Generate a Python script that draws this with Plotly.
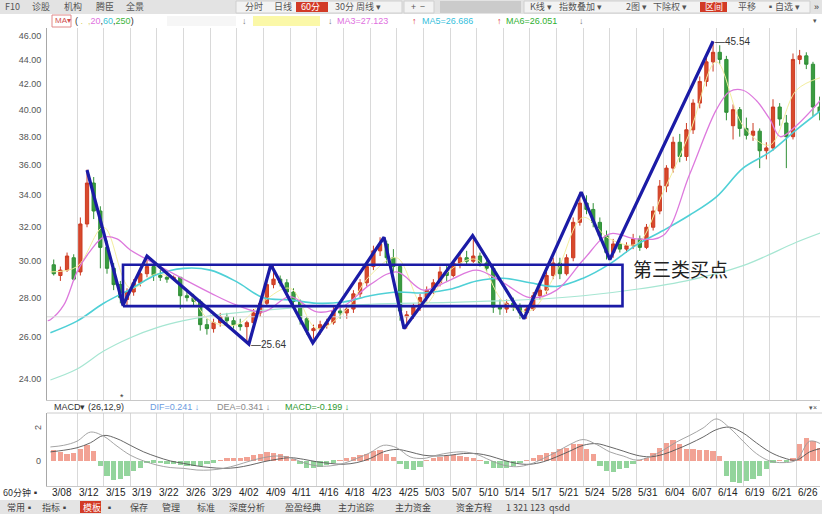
import math
import plotly.graph_objects as go

W, H = 822, 514

# ---------------- data ----------------
date_labels = ["3/08", "3/12", "3/15", "3/19", "3/22", "3/26", "3/29", "4/02", "4/09", "4/11",
               "4/16", "4/18", "4/23", "4/25", "5/03", "5/07", "5/10", "5/14", "5/17", "5/21",
               "5/24", "5/28", "5/31", "6/04", "6/07", "6/14", "6/19", "6/21", "6/26"]

opens = [29.8, 29.2, 29.5, 30.2, 29.4, 32.2, 34.8, 33.0, 30.8, 29.6, 28.7, 27.9, 28.3, 28.8, 29.3, 29.7,
         29.2, 29.1, 29.0, 29.1, 28.1, 28.0, 27.8, 26.6, 26.4, 26.7, 27.0, 26.8, 26.6, 26.5, 26.7, 27.2,
         27.7, 28.7, 29.0, 28.8, 28.3, 27.8, 26.9, 26.3, 26.4, 26.6, 26.7, 27.3, 27.2, 27.4, 28.2, 28.8,
         29.7, 30.6, 31.0, 30.2, 29.7, 27.0, 27.1, 27.5, 28.0, 28.4, 28.8, 29.4, 29.2, 29.9, 30.2, 30.0,
         30.3, 29.9, 29.6, 27.5, 27.4, 27.7, 27.5, 27.2, 27.4, 28.1, 28.4, 29.2, 29.9, 29.3, 30.2, 32.3,
         33.5, 33.1, 32.3, 31.5, 30.5, 31.0, 30.7, 30.9, 31.3, 30.8, 32.0, 33.0, 34.6, 35.8, 37.6, 36.6,
         38.5, 40.5, 42.2, 43.8, 44.6, 44.0, 38.8, 40.0, 38.6, 38.1, 38.4, 37.0, 37.2, 40.2, 39.0, 38.0,
         44.0, 44.3, 43.6, 40.2]
highs = [30.1, 29.7, 30.5, 30.4, 32.6, 35.7, 35.2, 33.3, 31.2, 29.9, 28.9, 28.5, 29.0, 29.5, 30.3, 29.9,
         29.5, 29.3, 29.2, 29.1, 28.3, 28.2, 27.9, 26.9, 26.9, 27.2, 27.2, 27.0, 26.9, 26.8, 27.4, 27.8,
         28.9, 29.8, 29.2, 29.0, 28.5, 27.9, 27.0, 26.6, 26.8, 26.9, 27.5, 27.6, 27.5, 28.4, 29.0, 30.0,
         30.9, 31.4, 31.2, 30.7, 29.8, 27.3, 27.7, 28.2, 28.6, 29.0, 29.7, 29.8, 30.0, 30.4, 30.6, 31.5,
         30.5, 30.1, 29.8, 27.9, 27.9, 28.0, 27.7, 27.6, 28.3, 28.6, 29.4, 30.2, 30.2, 30.4, 32.6, 34.2,
         34.0, 33.5, 32.6, 31.8, 31.3, 31.2, 31.1, 31.6, 31.5, 32.2, 33.3, 35.0, 36.0, 38.0, 38.2, 39.0,
         40.8, 42.6, 44.2, 45.54, 45.2, 44.3, 40.4, 40.2, 39.4, 39.0, 38.6, 37.6, 40.8, 40.5, 39.6, 44.5,
         44.8, 44.6, 43.8, 41.0]
lows = [29.2, 28.9, 29.4, 28.9, 29.2, 32.0, 32.5, 29.6, 29.3, 28.4, 27.7, 27.6, 28.1, 28.6, 29.1, 28.9,
        28.9, 28.8, 28.9, 27.4, 27.8, 27.6, 26.3, 26.1, 26.2, 26.5, 26.6, 26.4, 26.3, 25.64, 26.6, 27.0,
        27.6, 28.5, 28.6, 28.1, 27.6, 26.6, 26.1, 25.9, 26.1, 26.4, 26.6, 26.9, 26.9, 27.2, 28.0, 28.6,
        29.5, 30.3, 29.8, 29.4, 26.8, 26.4, 26.9, 27.3, 27.8, 28.2, 28.6, 28.9, 29.1, 29.6, 29.8, 29.9,
        29.7, 29.4, 27.2, 27.1, 27.2, 27.3, 26.9, 26.9, 27.3, 27.9, 28.2, 29.0, 29.0, 29.2, 30.0, 32.1,
        32.8, 32.0, 31.2, 30.1, 30.2, 30.5, 30.5, 30.7, 30.6, 30.7, 31.8, 32.8, 34.2, 35.5, 36.2, 36.3,
        38.2, 40.1, 41.8, 43.0, 43.6, 39.2, 37.8, 38.0, 37.8, 37.7, 35.8, 36.4, 37.0, 38.8, 35.8, 37.8,
        43.6, 43.2, 39.5, 39.2]
closes = [29.3, 29.5, 30.3, 29.0, 32.2, 34.8, 33.0, 30.8, 29.6, 28.7, 28.0, 28.3, 28.8, 29.3, 29.7, 29.2,
          29.1, 29.0, 29.1, 28.1, 28.0, 27.8, 26.6, 26.4, 26.7, 27.0, 26.8, 26.6, 26.5, 26.7, 27.2, 27.7,
          28.7, 29.0, 28.8, 28.3, 27.8, 26.9, 26.3, 26.4, 26.6, 26.7, 27.3, 27.2, 27.4, 28.2, 28.8, 29.7,
          30.6, 31.0, 30.2, 29.7, 27.3, 27.1, 27.5, 28.0, 28.4, 28.8, 29.4, 29.2, 29.9, 30.2, 30.0, 30.3,
          29.9, 29.6, 27.5, 27.4, 27.7, 27.5, 27.2, 27.4, 28.1, 28.4, 29.2, 29.9, 29.3, 30.2, 32.3, 33.5,
          33.1, 32.3, 31.5, 30.5, 31.0, 30.7, 30.9, 31.3, 30.8, 32.0, 33.0, 34.6, 35.8, 37.6, 36.6, 38.5,
          40.5, 42.2, 43.8, 44.6, 44.0, 39.8, 40.0, 38.6, 38.1, 38.4, 37.0, 37.2, 40.2, 39.3, 38.0, 44.0,
          44.3, 43.6, 40.2, 39.8]

# moving averages, sampled at positions measured in date-grid units
ma_short_pos = list(range(29)) + [28.9]
ma_short_val = [29.4, 29.7, 32.0, 28.5, 29.3, 28.6, 26.8, 26.6, 27.8, 28.5, 26.4, 27.2, 29.2, 30.2, 27.6,
                29.5, 30.1, 27.8, 27.3, 29.4, 32.6, 31.3, 31.0, 34.2, 38.3, 43.8, 38.8, 37.4, 41.5, 42.5]
ma20_pos = [-0.1, 0, 0.5, 1, 1.5, 2, 2.5, 3, 4, 5, 6, 7, 8, 9, 10, 11, 12, 13, 14, 15, 16, 17, 18, 19,
            20, 21, 22, 23, 24, 25, 25.5, 26, 26.5, 27, 27.4, 28, 28.9]
ma20_val = [26.8, 26.85, 27.6, 29.4, 30.6, 31.4, 31.3, 30.65, 29.8, 29.0, 28.25, 27.6, 27.25, 28.05,
            27.25, 27.55, 28.7, 29.4, 28.4, 28.95, 29.5, 28.8, 28.0, 28.4, 30.07, 31.6, 31.3, 31.5, 35.4,
            40.0, 41.4, 41.5, 40.7, 39.3, 38.0, 38.8, 40.7]
ma60_pos = list(range(29)) + [28.9]
ma60_val = [26.2, 26.78, 27.7, 28.45, 29.25, 29.6, 29.5, 28.85, 27.99, 27.88, 27.7, 27.77, 28.1, 28.3,
            28.25, 28.45, 28.9, 29.05, 28.8, 28.6, 29.05, 29.85, 30.95, 31.8, 32.75, 33.9, 35.8, 36.9,
            38.5, 39.9]
ma250_pos = [0, 1, 2, 3, 4, 5, 6, 9, 12, 15, 18, 20, 22, 24, 26, 28, 28.9]
ma250_val = [23.95, 24.45, 25.3, 25.95, 26.45, 26.8, 27.05, 27.45, 27.65, 27.75, 27.9, 28.1, 28.45,
             28.95, 29.75, 31.1, 31.65]

# zigzag pivots (bar index, price) and the central box
zz_bar = [5, 10.4, 14, 29.3, 32.6, 38.9, 49.6, 52.6, 62.9, 70.6, 79.2, 83.5, 99]
zz_price = [35.67, 27.6, 30.3, 25.64, 29.8, 25.7, 31.4, 26.4, 31.5, 26.9, 34.2, 30.1, 45.54]
box_bar = [10.4, 85.4]
box_price = [27.55, 29.8]

# MACD
macd_hist = [0.65, 0.55, 0.45, 0.5, 0.7, 0.95, 0.6, -0.3, -0.9, -1.15, -1.1, -0.9, -0.6, -0.4, -0.15,
             -0.1, -0.15, -0.2, -0.2, -0.25, -0.3, -0.3, -0.3, -0.2, -0.1, 0.05, 0.15, 0.15, 0.2, 0.25,
             0.35, 0.45, 0.55, 0.5, 0.4, 0.3, 0.1, -0.2, -0.4, -0.45, -0.35, -0.25, -0.1, 0.05, 0.15,
             0.25, 0.35, 0.45, 0.6, 0.65, 0.45, 0.25, -0.2, -0.5, -0.55, -0.35, 0.05, 0.15, 0.25, 0.3,
             0.35, 0.3, 0.25, 0.2, 0.05, -0.2, -0.4, -0.45, -0.4, -0.3, -0.15, 0.05, 0.2, 0.35, 0.5,
             0.55, 0.75, 0.8, 1.0, 1.05, 0.75, 0.45, -0.3, -0.6, -0.65, -0.5, -0.4, -0.2, 0.05, 0.2,
             0.5, 0.8, 1.1, 1.3, 1.0, 0.75, 0.7, 0.65, 0.65, 0.6, 0.3, -0.9, -1.3, -1.35, -1.2, -1.1,
             -0.9, -0.5, -0.1, 0.05, -0.05, 0.2, 1.0, 1.4, 1.2, 0.8]
macd_line_pos = [j / 2 for j in range(58)] + [28.9]
dif_val = [0.85, 0.95, 1.2, 1.75, 1.5, 0.9, 0.35, 0.0, -0.25, -0.4, -0.45, -0.55, -0.55, -0.45, -0.25,
           0.0, 0.2, 0.3, 0.2, -0.1, -0.3, -0.3, -0.15, 0.15, 0.5, 0.95, 0.8, 0.25, 0.15, 0.35, 0.5,
           0.55, 0.4, 0.05, -0.25, -0.35, -0.2, 0.15, 0.55, 1.0, 1.3, 1.0, 0.55, 0.3, 0.05, 0.25, 0.65,
           1.15, 1.55, 2.0, 2.55, 2.0, 1.2, 0.45, 0.0, -0.1, 0.05, 1.2, 1.05]
dea_val = [0.55, 0.65, 0.8, 1.1, 1.55, 1.35, 0.95, 0.55, 0.25, 0.0, -0.15, -0.3, -0.4, -0.45, -0.4,
           -0.25, -0.05, 0.1, 0.2, 0.1, -0.05, -0.15, -0.2, -0.1, 0.15, 0.55, 0.7, 0.55, 0.35, 0.3,
           0.35, 0.45, 0.45, 0.3, 0.05, -0.15, -0.2, -0.05, 0.25, 0.6, 0.95, 1.05, 0.85, 0.6, 0.35,
           0.25, 0.4, 0.7, 1.05, 1.45, 1.9, 2.05, 1.7, 1.1, 0.55, 0.2, 0.05, 0.55, 0.75]

price_ticks = [24, 26, 28, 30, 32, 34, 36, 38, 40, 42, 44, 46]
ref_price_line = 27.0

# ---------------- layout helpers ----------------
BARS_PER_GRID = 4
def grid_to_bar(g):
    return BARS_PER_GRID * g - 0.5

def PX(x):
    return x / W

def PY(y):
    return 1 - y / H

L_PX, R_PX = 47, 820
MAIN_T, MAIN_B = 28, 400
MACD_T, MACD_B = 413, 486
BAR_W_PX = 6.66
X0_PX = 50.4
x_range = [(L_PX - X0_PX) / BAR_W_PX - 0.5, (R_PX - X0_PX) / BAR_W_PX - 0.5]
p_top = 46 * math.exp((36 - MAIN_T) / 527)
p_bot = 46 * math.exp((36 - MAIN_B) / 527)

FONT = "Liberation Sans, Arial, Noto Sans CJK SC, sans-serif"
CJK = "Noto Sans CJK SC, sans-serif"

fig = go.Figure()

n = len(closes)
bars = list(range(n))

fig.add_trace(go.Candlestick(
    x=bars, open=opens, high=highs, low=lows, close=closes,
    increasing=dict(line=dict(color="#cc3a22", width=1), fillcolor="#d84a2c"),
    decreasing=dict(line=dict(color="#2f8f36", width=1), fillcolor="#3a9c40"),
    whiskerwidth=0, xaxis="x", yaxis="y", showlegend=False, hoverinfo="skip"))

def ma_trace(pos, val, color, width):
    return go.Scatter(x=[grid_to_bar(g) for g in pos], y=val, mode="lines",
                      line=dict(color=color, width=width, shape="spline", smoothing=1.0),
                      xaxis="x", yaxis="y", showlegend=False, hoverinfo="skip")

fig.add_trace(ma_trace(ma250_pos, ma250_val, "#a6e6d2", 1.2))
fig.add_trace(ma_trace(ma_short_pos, ma_short_val, "#f3ee9e", 1.0))
fig.add_trace(ma_trace(ma60_pos, ma60_val, "#4fd0d6", 1.6))
fig.add_trace(ma_trace(ma20_pos, ma20_val, "#dd79dd", 1.3))

# reference horizontal line in main panel
fig.add_trace(go.Scatter(x=[-2, 120], y=[ref_price_line, ref_price_line], mode="lines",
                         line=dict(color="#d8d8d8", width=1), xaxis="x", yaxis="y",
                         showlegend=False, hoverinfo="skip"))

# box
bx = [box_bar[0], box_bar[1], box_bar[1], box_bar[0], box_bar[0]]
by = [box_price[0], box_price[0], box_price[1], box_price[1], box_price[0]]
fig.add_trace(go.Scatter(x=bx, y=by, mode="lines", line=dict(color="#1b1ba6", width=2.6),
                         xaxis="x", yaxis="y", showlegend=False, hoverinfo="skip"))
# zigzag
fig.add_trace(go.Scatter(x=zz_bar, y=zz_price, mode="lines", line=dict(color="#1b1ba6", width=3.2),
                         xaxis="x", yaxis="y", showlegend=False, hoverinfo="skip"))

# MACD histogram
fig.add_trace(go.Bar(x=bars, y=macd_hist, width=0.8,
                     marker=dict(color=["#f2a294" if v >= 0 else "#93d49c" for v in macd_hist],
                                 line=dict(width=0)),
                     xaxis="x2", yaxis="y2", showlegend=False, hoverinfo="skip"))
fig.add_trace(go.Scatter(x=[grid_to_bar(g) for g in macd_line_pos], y=dea_val, mode="lines",
                         line=dict(color="#555555", width=0.9, shape="spline"),
                         xaxis="x2", yaxis="y2", showlegend=False, hoverinfo="skip"))
fig.add_trace(go.Scatter(x=[grid_to_bar(g) for g in macd_line_pos], y=dif_val, mode="lines",
                         line=dict(color="#9a9a9a", width=0.9, shape="spline"),
                         xaxis="x2", yaxis="y2", showlegend=False, hoverinfo="skip"))

grid_vals = [grid_to_bar(k) for k in range(1, len(date_labels))]

fig.update_layout(
    width=W, height=H, margin=dict(l=0, r=0, t=0, b=0),
    paper_bgcolor="white", plot_bgcolor="white",
    font=dict(family=FONT, size=9, color="#333"),
    bargap=0,
    xaxis=dict(domain=[PX(L_PX), PX(R_PX)], range=x_range, anchor="y",
               tickvals=grid_vals, showticklabels=False, ticks="",
               showgrid=True, gridcolor="#d9d9d9", gridwidth=1, zeroline=False,
               showline=True, linecolor="#c8c8c8", rangeslider=dict(visible=False),
               automargin=False),
    yaxis=dict(domain=[PY(MAIN_B), PY(MAIN_T)], type="log",
               range=[math.log10(p_bot), math.log10(p_top)],
               tickvals=price_ticks, ticktext=["%.2f" % t for t in price_ticks],
               tickfont=dict(size=9, color="#555"), ticks="", showgrid=False, zeroline=False,
               showline=True, linecolor="#a8a8a8", ticklabelstandoff=3, automargin=False),
    xaxis2=dict(domain=[PX(L_PX), PX(R_PX)], range=x_range, anchor="y2",
                tickvals=grid_vals, showticklabels=False, ticks="",
                showgrid=True, gridcolor="#d9d9d9", gridwidth=1, zeroline=False,
                showline=True, linecolor="#c8c8c8", automargin=False),
    yaxis2=dict(domain=[PY(MACD_B), PY(MACD_T)], range=[-1.52, 2.91],
                showticklabels=False, ticks="", showgrid=False, zeroline=False,
                showline=True, linecolor="#a8a8a8", automargin=False),
)

# ---------------- chrome / text ----------------
def rect(x0, y0, x1, y1, fill, line=None, layer="below"):
    fig.add_shape(type="rect", xref="paper", yref="paper", x0=PX(x0), x1=PX(x1),
                  y0=PY(y1), y1=PY(y0), fillcolor=fill,
                  line=dict(color=line or fill, width=1 if line else 0), layer=layer)

def hline(y, x0, x1, color="#cfcfcf"):
    fig.add_shape(type="line", xref="paper", yref="paper", x0=PX(x0), x1=PX(x1),
                  y0=PY(y), y1=PY(y), line=dict(color=color, width=1))

def txt(x, y, s, size=9, color="#333", anchor="left", family=FONT, **kw):
    fig.add_annotation(x=PX(x), y=PY(y), xref="paper", yref="paper", text=s, showarrow=False,
                       xanchor=anchor, yanchor="middle", font=dict(size=size, color=color, family=family),
                       **kw)

# top toolbar
rect(0, 0, 822, 14, "#e3e3e3")
rect(236, 1, 402, 13, "#f3f3f3", "#cfcfcf")
rect(404, 1, 434, 13, "#f3f3f3", "#cfcfcf")
rect(440, 1, 521, 13, "#cbcbcb")
rect(524, 1, 810, 13, "#f3f3f3", "#cfcfcf")
rect(296, 2, 328, 12, "#d23a26")
rect(700, 2, 727, 12, "#d23a26")
for s, x in [("F10", 3), ("诊股", 30), ("机构", 62), ("腾臣", 94), ("全景", 124)]:
    txt(x, 7, s, size=9, color="#555", family=CJK)
for s, x, c in [("分时", 243, "#555"), ("日线", 272, "#555"), ("60分", 299, "white"),
                ("30分", 333, "#555"), ("周线 ▾", 354, "#555"), ("+  −", 409, "#555"),
                ("K线 ▾", 528, "#555"), ("指数叠加 ▾", 557, "#555"), ("2图 ▾", 624, "#555"),
                ("下除权 ▾", 651, "#555"), ("区间", 703, "white"), ("平移", 736, "#555"),
                ("▪自选 ▾", 764, "#555")]:
    txt(x, 7, s, size=9, color=c, family=CJK)
txt(816, 7, "»", size=9, color="#333", anchor="center")

# MA legend row
rect(52, 15, 71, 27, "white", "#e08a8a")
txt(53, 21, "MA▾", size=8, color="#d05050")
txt(73, 21, '( <span style="color:#d8d060">.</span>  <span style="color:#d8d060">,</span>'
            '<span style="color:#e070e0">20</span>,<span style="color:#3cc4d4">60</span>,'
            '<span style="color:#3cb43c">250</span>)', size=9, color="#333")
rect(167, 16, 236, 26, "#f6f6f6")
txt(240, 21, "↓", size=9, color="#777")
rect(253, 16, 320, 26, "#fbf8a8")
txt(326, 21, "↓", size=9, color="#777")
txt(335, 21, "MA3=27.123", size=9, color="#e070e0")
txt(410, 21, "↑", size=9, color="#e03030")
txt(420, 21, "MA5=26.686", size=9, color="#36c0dc")
txt(495, 21, "↑", size=9, color="#e03030")
txt(504, 21, "MA6=26.051", size=9, color="#30b030")
txt(577, 21, "↓", size=9, color="#777")
txt(815, 21, "▾", size=7, color="#555", anchor="center")

# MACD title row
hline(MACD_T, L_PX, 822, "#cccccc")
txt(52, 407, "MACD▾ (26,12,9)", size=9, color="#333")
txt(148, 407, "DIF=0.241 ↓", size=9, color="#6b9be0")
txt(215, 407, "DEA=0.341 ↓", size=9, color="#888")
txt(283, 407, "MACD=-0.199 ↓", size=9, color="#2f9a2f")
txt(813, 407, "▾×", size=7, color="#555", anchor="center")
txt(38, 428, "2", size=9, color="#555", anchor="center", textangle=-90)
txt(38, 461, "0", size=9, color="#555", anchor="center")

# date row
txt(1, 492, "60分钟▪", size=9, color="#333", family=CJK)
for k, lab in enumerate(date_labels):
    fig.add_annotation(x=grid_to_bar(k), y=PY(492), xref="x2", yref="paper", text=lab,
                       showarrow=False, xanchor="left", yanchor="middle",
                       font=dict(size=10, color="#222", family=FONT))

# bottom toolbar
rect(0, 500, 822, 514, "#e4e4e4")
rect(80, 501, 101, 513, "#d23a26")
for s, x, c in [("常用▪", 5, "#444"), ("指标▪", 40, "#444"), ("模板", 81, "white"), ("▪", 103, "#444"),
                ("保存", 128, "#444"), ("管理", 160, "#444"), ("标准", 195, "#444"),
                ("深度分析", 227, "#444"), ("盈盈经典", 283, "#444"), ("主力追踪", 336, "#444"),
                ("主力资金", 393, "#444"), ("资金方程", 454, "#444"), ("1 321 123  qsdd", 504, "#444")]:
    txt(x, 507, s, size=9, color=c, family=CJK)

# chart annotations
fig.add_annotation(x=zz_bar[-1], y=math.log10(zz_price[-1]), xref="x", yref="y",
                   text="—45.54", showarrow=False, xanchor="left", yanchor="middle",
                   font=dict(size=10, color="#333"))
fig.add_annotation(x=zz_bar[3], y=math.log10(zz_price[3]), xref="x", yref="y",
                   text="—25.64", showarrow=False, xanchor="left", yanchor="middle",
                   font=dict(size=10, color="#333"))
txt(631, 268, "第三类买点", size=19, color="#222", family=CJK)
txt(122, 397, "*", size=9, color="#333", anchor="center")

fig.write_html("out.html", config={"displayModeBar": False},
               post_script="document.body.style.margin='0';document.body.style.overflow='hidden';")
